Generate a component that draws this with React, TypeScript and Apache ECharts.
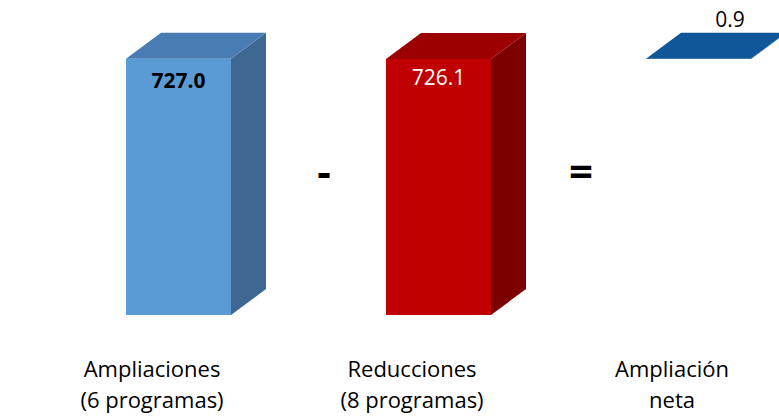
import React, { useEffect, useRef } from "react";
import * as echarts from "echarts";

const categories = ["Ampliaciones\n(6 programas)", "Reducciones\n(8 programas)", "Ampliación\nneta"];
const values = [727.0, 726.1, 0.9];
const valueLabels = ["727.0", "726.1", "0.9"];
// waterfall: the net bar floats on top of the reductions
const bases = [0, 0, values[1]];

const FRONT = ["#5b9bd5", "#c00000", "#1f5f9e"];
const TOP = ["#4a7cb4", "#9c0000", "#0f5799"];
const SIDE = ["#3e6891", "#7c0000", "#0d4a80"];

export default function App() {
  const ref = useRef<HTMLDivElement>(null);
  useEffect(() => {
    document.body.style.margin = "0";
    const chart = echarts.init(ref.current!, null, { renderer: "svg" });
    const data = values.map((v, i) => [i, bases[i], bases[i] + v]);
    const font = "'Open Sans', sans-serif";
    chart.setOption({
      animation: false,
      grid: { left: 22, right: -23, top: 33, height: 282, outerBoundsMode: "none", containLabel: false },
      xAxis: {
        type: "category",
        data: categories,
        axisLine: { show: false },
        axisTick: { show: false },
        axisLabel: { fontSize: 22, lineHeight: 31, color: "#000", margin: 37, fontFamily: font },
      },
      yAxis: { type: "value", min: 0, max: 800, show: false, splitLine: { show: false } },
      series: [
        {
          type: "custom",
          clip: false,
          data,
          renderItem: (params: any, api: any) => {
            const idx = api.value(0);
            const b = api.coord([idx, api.value(1)]);
            const t = api.coord([idx, api.value(2)]);
            const cx = t[0];
            const x0 = cx - 26;
            const x1 = cx + 79;
            const yT = t[1];
            const yB = b[1];
            const dx = 35;
            const dy = -26;
            const i = params.dataIndex;
            const children: any[] = [
              {
                type: "polygon",
                shape: { points: [[x1, yB], [x1 + dx, yB + dy], [x1 + dx, yT + dy], [x1, yT]] },
                style: { fill: SIDE[i] },
              },
              {
                type: "rect",
                shape: { x: x0, y: yT, width: x1 - x0, height: Math.max(yB - yT, 0) },
                style: { fill: FRONT[i] },
              },
              {
                type: "polygon",
                shape: { points: [[x0, yT], [x0 + dx, yT + dy], [x1 + dx, yT + dy], [x1, yT]] },
                style: { fill: TOP[i] },
              },
            ];
            let lx = (x0 + x1) / 2;
            let ly = yT + 21;
            let color = "#000";
            let weight: any = "bold";
            if (i === 1) {
              color = "#fff";
              weight = "normal";
              ly = yT + 18;
            }
            if (i === 2) {
              lx = x1 - 21;
              ly = yT - 40;
              weight = "normal";
            }
            children.push({
              type: "text",
              style: {
                text: valueLabels[i],
                x: lx,
                y: ly,
                align: "center",
                verticalAlign: "middle",
                fill: color,
                fontSize: 21,
                fontWeight: weight,
                fontFamily: font,
              },
            });
            return { type: "group", children };
          },
        },
      ],
      graphic: [
        {
          type: "text",
          x: 324,
          y: 170,
          style: { text: "-", align: "center", verticalAlign: "middle", fontSize: 42, fontWeight: "bold", fill: "#000", fontFamily: font },
        },
        {
          type: "text",
          x: 581,
          y: 169,
          style: { text: "=", align: "center", verticalAlign: "middle", fontSize: 42, fontWeight: "bold", fill: "#000", fontFamily: font },
        },
      ],
    });
    return () => chart.dispose();
  }, []);
  return <div ref={ref} style={{ width: 779, height: 418 }} />;
}
